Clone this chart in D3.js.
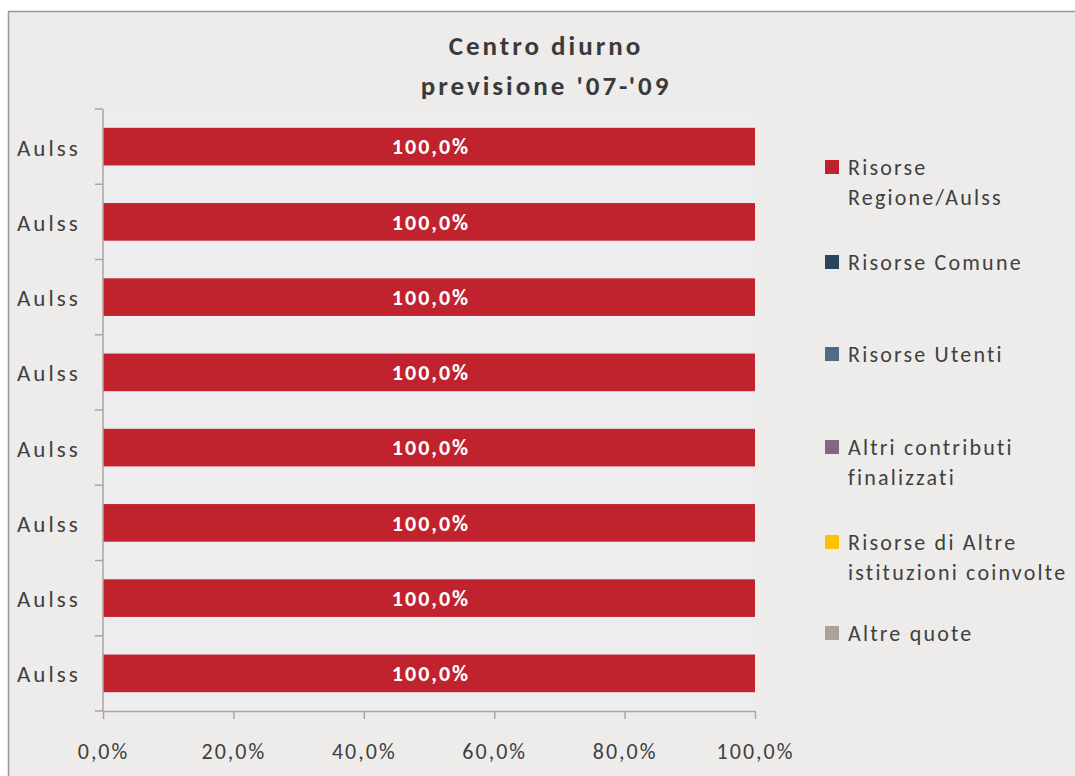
<!DOCTYPE html>
<html>
<head>
<meta charset="utf-8">
<script src="https://cdn.jsdelivr.net/npm/d3@7"></script>
<style>
  body { margin: 0; background: #ffffff; }
  svg text { font-family: Carlito, Lato, "Open Sans", sans-serif; }
</style>
</head>
<body>
<svg id="chart" width="1075" height="776"></svg>
<script>
// data
var CATEGORIES = ["Aulss", "Aulss", "Aulss", "Aulss", "Aulss", "Aulss", "Aulss", "Aulss"];
var SERIES = ["Risorse Regione/Aulss", "Risorse Comune", "Risorse Utenti",
              "Altri contributi finalizzati", "Risorse di Altre istituzioni coinvolte", "Altre quote"];
var REGIONE = [100, 100, 100, 100, 100, 100, 100, 100];
var COMUNE = [0, 0, 0, 0, 0, 0, 0, 0];
var UTENTI = [0, 0, 0, 0, 0, 0, 0, 0];
var ALTRI_CONTRIBUTI = [0, 0, 0, 0, 0, 0, 0, 0];
var ALTRE_ISTITUZIONI = [0, 0, 0, 0, 0, 0, 0, 0];
var ALTRE_QUOTE = [0, 0, 0, 0, 0, 0, 0, 0];
var X_TICKS = [0, 20, 40, 60, 80, 100];
var COLORS = ["#C0232D", "#2B4560", "#516B85", "#82687E", "#FFC000", "#ACA09A"];
var LEGEND_LINES = [["Risorse", "Regione/Aulss"], ["Risorse Comune"], ["Risorse Utenti"],
                    ["Altri contributi", "finalizzati"], ["Risorse di Altre", "istituzioni coinvolte"], ["Altre quote"]];

var VALUES = [REGIONE, COMUNE, UTENTI, ALTRI_CONTRIBUTI, ALTRE_ISTITUZIONI, ALTRE_QUOTE];
var ROWS = CATEGORIES.map(function(c, i) {
  var r = {idx: i};
  SERIES.forEach(function(s, j) { r[s] = VALUES[j][i]; });
  return r;
});

var SVG = d3.select("#chart");

// outer frame (only top and left edges visible)
SVG.append("rect").attr("x", 8.5).attr("y", 11.5).attr("width", 1075).attr("height", 776)
   .attr("fill", "#EDECEA").attr("stroke", "#A09896").attr("stroke-width", 1.5);

var pLeft = 103, pRight = 755, pTop = 109, pBottom = 711;

SVG.append("rect").attr("x", pLeft).attr("y", pTop).attr("width", pRight - pLeft).attr("height", pBottom - pTop)
   .attr("fill", "#EDECEE");

var x = d3.scaleLinear().domain([0, 100]).range([pLeft, pRight]);
var y = d3.scaleBand().domain(d3.range(CATEGORIES.length)).range([pTop, pBottom]).paddingInner(0.5).paddingOuter(0.25);

var stacked = d3.stack().keys(SERIES)(ROWS);

var layers = SVG.append("g").selectAll("g").data(stacked).enter().append("g")
   .attr("fill", function(d, i) { return COLORS[i]; });

layers.selectAll("rect").data(function(d) { return d; }).enter().append("rect")
   .attr("x", function(d) { return x(d[0]); })
   .attr("width", function(d) { return x(d[1]) - x(d[0]); })
   .attr("y", function(d) { return y(d.data.idx); })
   .attr("height", y.bandwidth());

// value labels
layers.filter(function(d, i) { return i === 0; }).selectAll("text")
   .data(function(d) { return d; }).enter().append("text")
   .attr("x", function(d) { return (x(d[0]) + x(d[1])) / 2 + 2; })
   .attr("y", function(d) { return y(d.data.idx) + y.bandwidth() / 2; })
   .attr("dy", "0.35em")
   .attr("text-anchor", "middle")
   .attr("fill", "#ffffff")
   .attr("font-size", 22).attr("font-weight", "bold").attr("letter-spacing", 2)
   .text(function(d) { return (d[1] - d[0]).toFixed(1).replace(".", ",") + "%"; });

// y axis
var band = (pBottom - pTop) / CATEGORIES.length;
var yAxis = SVG.append("g");
yAxis.append("line").attr("x1", pLeft).attr("x2", pLeft).attr("y1", pTop).attr("y2", pBottom)
   .attr("stroke", "#ADA4A2").attr("stroke-width", 1.5);
yAxis.selectAll("line.tick").data(d3.range(CATEGORIES.length + 1)).enter().append("line")
   .attr("class", "tick")
   .attr("x1", pLeft - 8).attr("x2", pLeft)
   .attr("y1", function(d) { return pTop + d * band; })
   .attr("y2", function(d) { return pTop + d * band; })
   .attr("stroke", "#ADA4A2").attr("stroke-width", 1.5);
yAxis.selectAll("text").data(CATEGORIES).enter().append("text")
   .attr("x", 17)
   .attr("y", function(d, i) { return y(i) + y.bandwidth() / 2 + 1; })
   .attr("dy", "0.35em")
   .attr("fill", "#404040").attr("font-size", 23).attr("letter-spacing", 3)
   .text(function(d) { return d; });

// x axis
var xAxis = SVG.append("g").attr("transform", "translate(0," + pBottom + ")")
   .call(d3.axisBottom(x).tickValues(X_TICKS).tickSizeInner(8).tickSizeOuter(0)
     .tickFormat(function(d) { return d.toFixed(1).replace(".", ",") + "%"; }));
xAxis.select(".domain").attr("stroke", "#ADA4A2").attr("stroke-width", 1.5);
xAxis.selectAll(".tick line").attr("stroke", "#ADA4A2").attr("stroke-width", 1.5);
xAxis.selectAll(".tick text").attr("font-size", 22).attr("fill", "#404040")
   .attr("font-family", "Carlito, Lato, sans-serif").attr("letter-spacing", 2).attr("y", 40).attr("dy", "0.35em");

// title
var title = SVG.append("text").attr("text-anchor", "middle").attr("fill", "#3A3A3C")
   .attr("font-size", 27).attr("font-weight", "bold").attr("letter-spacing", 3);
title.append("tspan").attr("x", 546).attr("y", 55).text("Centro diurno");
title.append("tspan").attr("x", 546).attr("y", 95).text("previsione '07-'09");

// legend
var LEGEND_Y = [167, 262, 354, 447, 542, 633];
var legend = SVG.append("g").selectAll("g").data(SERIES).enter().append("g")
   .attr("transform", function(d, i) { return "translate(825," + LEGEND_Y[i] + ")"; });
legend.append("rect").attr("x", 0).attr("y", -7).attr("width", 14).attr("height", 14)
   .attr("fill", function(d, i) { return COLORS[i]; });
legend.append("text").attr("fill", "#404040").attr("font-size", 22).attr("letter-spacing", 2.2)
   .selectAll("tspan").data(function(d, i) { return LEGEND_LINES[i]; }).enter().append("tspan")
   .attr("x", 23).attr("y", function(d, i) { return i * 30; }).attr("dy", "0.35em")
   .text(function(d) { return d; });
</script>
</body>
</html>
